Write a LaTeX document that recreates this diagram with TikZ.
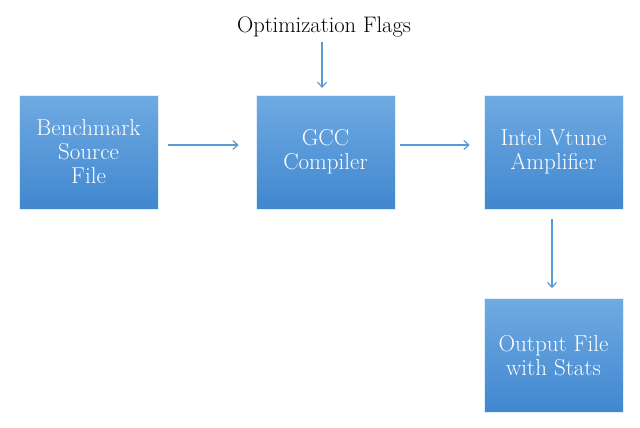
\documentclass[tikz,border=0pt]{standalone}
\usetikzlibrary{arrows.meta}
\definecolor{boxtop}{RGB}{112,170,226}
\definecolor{boxbot}{RGB}{64,135,207}
\definecolor{arrowc}{RGB}{91,155,213}
\begin{document}
\begin{tikzpicture}[x=1pt,y=-1pt,
  blockbox/.style={draw=white!80!boxtop, line width=0.6pt, top color=boxtop, bottom color=boxbot,
    minimum width=139pt, minimum height=114pt, inner sep=0pt, text=white, align=center,
    font=\fontsize{23}{24}\selectfont},
  flow/.style={draw=arrowc, line width=1.2pt, -{Straight Barb[length=5pt,width=9pt,line width=1.2pt]}}]
\useasboundingbox (0,0) rectangle (640,428);
\node[blockbox] (src) at (88.5,152) {Benchmark\\Source\\File};
\node[blockbox] (gcc) at (325.5,152) {GCC\\Compiler};
\node[blockbox] (vt) at (553.5,152) {Intel Vtune\\Amplifier};
\node[blockbox] (out) at (553.5,355.5) {Output File\\with Stats};
\node[font=\fontsize{22.5}{24}\selectfont, inner sep=0pt] (flags) at (324,27) {Optimization Flags};
\coordinate (fa) at (322,42);
\coordinate (fb) at (322,88);
\draw[flow] (fa) -- (fb);
\draw[flow] ([xshift=10pt,yshift=7pt]src.east) -- ([xshift=-17pt,yshift=7pt]gcc.west);
\draw[flow] ([xshift=5pt,yshift=7pt]gcc.east) -- ([xshift=-14pt,yshift=7pt]vt.west);
\draw[flow] ([xshift=-1.5pt,yshift=-10pt]vt.south) -- ([xshift=-1.5pt,yshift=10pt]out.north);
\end{tikzpicture}
\end{document}
